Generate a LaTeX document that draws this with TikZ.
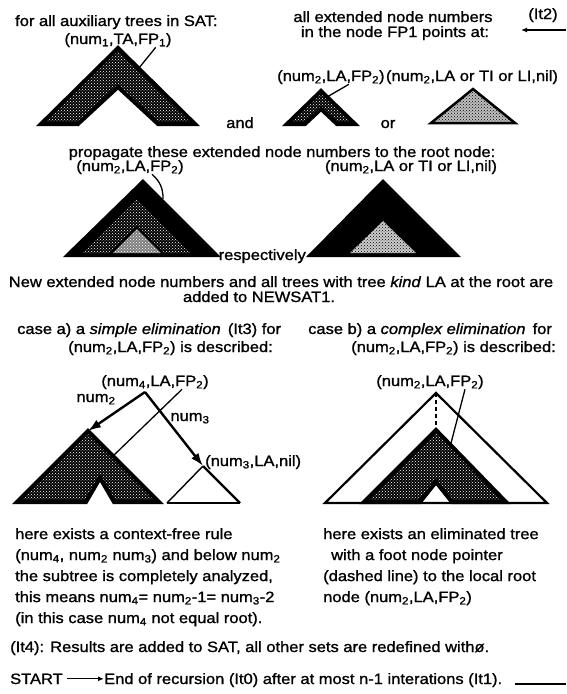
\documentclass[tikz,border=0pt]{standalone}
\usepackage{fontspec}
\setmainfont[FakeStretch=1.1,FakeBold=1.2]{Liberation Sans}
\usetikzlibrary{arrows.meta,positioning,patterns}
\newcommand{\nm}[1]{num\textsubscript{#1}}
\newcommand{\fp}[1]{FP\textsubscript{#1}}
\tikzset{
  texto/.style={font=\fontsize{15}{18}\selectfont, inner sep=0pt},
  bloco/.style={texto, align=left, font=\fontsize{15}{21}\selectfont, anchor=north west},
  % trees: black auxiliary tree with stipple, light initial tree, plain outline
  arvorepreta/.style={fill=black, draw=black, line width=2pt, line join=miter,
                postaction={pattern=crosshatch dots, pattern color=white},
                postaction={draw=black, line width=4pt, line join=miter}},
  arvoreclara/.style={fill=black!25, draw=black, line width=2.5pt,
                postaction={pattern=crosshatch dots, pattern color=black}},
  pontilhado/.style={pattern=crosshatch dots, pattern color=white},
  entalhe/.style={fill=black!50, postaction={pattern=crosshatch dots, pattern color=white}},
  claro/.style={fill=black!20, postaction={pattern=crosshatch dots, pattern color=black}},
  contorno/.style={draw=black, line width=2.2pt, line join=miter},
  contornofino/.style={draw=black, line width=1.4pt},
  ponteiro/.style={line width=1.3pt},
  tracejado/.style={line width=1.3pt, dashed, dash pattern=on 4pt off 3pt},
  seta/.style={line width=2.4pt, -{Latex[length=13pt,width=9pt]}},
  setafina/.style={line width=1.2pt, -{Latex[length=6pt,width=5pt]}},
}

\begin{document}
\begin{tikzpicture}[x=1pt,y=-1pt]
  \useasboundingbox (0,0) rectangle (566,694);

  % --- auxiliary trees in SAT ------------------------------------------------
  \node[texto, anchor=base west] (paratodas) at (15,26) {for all auxiliary trees in SAT:};
  \node[texto, anchor=base] (auxrotulo) at (118,44) {(\nm{1},TA,\fp{1})};
  \path[arvorepreta] (41,124) -- (118,48) -- (195,124) -- (158,124) -- (118,87) -- (78,124) -- cycle;
  \coordinate (auxpe) at (139,68);
  \draw[ponteiro] ([xshift=-16pt]auxrotulo.south east) -- (auxpe);
  \node[texto, anchor=base] (e) at (240,128) {and};

  \node[texto, anchor=base] (todas) at (393,22) {all extended node numbers};
  \node[texto, anchor=base] (nofp) at (395,37) {in the node FP1 points at:};
  \node[texto, anchor=base] (it2) at (543,19) {(It2)};
  \coordinate (laco) at (566,30);
  \coordinate (lacofim) at (521,30);
  \draw[setafina] (laco) -- (lacofim);

  \node[texto, anchor=base west] (lafp) at (277,81) {(\nm{2},LA,\fp{2})};
  \node[texto, base right=1pt of lafp] (lanil) {(\nm{2},LA or TI or LI,nil)};
  \path[arvorepreta] (287,124) -- (321,91) -- (355,124) -- (337,124) -- (321,109) -- (305,124) -- cycle;
  \coordinate (lape) at (327,97);
  \draw[ponteiro] ([xshift=18pt]lafp.south) -- (lape);
  \node[texto, anchor=base] (ou) at (388,128) {or};
  \path[arvoreclara] (431,123) -- (473,89) -- (515,123) -- cycle;

  % --- propagation to the root node --------------------------------------------
  \node[texto, anchor=base] (propaga) at (282,157) {propagate these extended node numbers to the root node:};
  \node[texto, anchor=base] (raizfp) at (130,171) {(\nm{2},LA,\fp{2})};
  \node[texto, anchor=base] (raiznil) at (411,171) {(\nm{2},LA or TI or LI,nil)};

  \fill (63,257) -- (143,179) -- (221,257) -- cycle;
  \path[pontilhado] (83,253) -- (137,199) -- (191,253) -- (165,253) -- (137,225) -- (109,253) -- cycle;
  \path[entalhe] (113,253) -- (137,229) -- (161,253) -- cycle;
  \coordinate (raizpe) at (163,199);
  \draw[ponteiro] ([xshift=22pt]raizfp.south) to[bend left=25] (raizpe);
  \node[texto, anchor=base east] (resp) at (306,260) {respectively};

  \fill (306,257) -- (383,179) -- (461,257) -- cycle;
  \path[claro] (350,253) -- (383,221) -- (416,253) -- cycle;

  % --- NEWSAT1 and the two cases ---------------------------------------------------
  \node[texto, anchor=base] (novos) at (281,287) {New extended node numbers and all trees with tree \textit{kind} LA at the root are};
  \node[texto, anchor=base] (newsat) at (259,302) {added to NEWSAT1.};
  \node[texto, anchor=base west] (casoa) at (17,334) {case a) a \textit{simple elimination}\, (It3) for};
  \node[texto, anchor=base east] (casoadesc) at (273,352) {(\nm{2},LA,\fp{2}) is described:};
  \node[texto, anchor=base west] (casob) at (308,334) {case b) a \textit{complex elimination}\, for};
  \node[texto, anchor=base east] (casobdesc) at (556,352) {(\nm{2},LA,\fp{2}) is described:};

  % --- case a: simple elimination --------------------------------------------
  \node[texto, anchor=base] (raiza) at (155,386) {(\nm{4},LA,\fp{2})};
  \coordinate (na) at (145,392);
  \coordinate (n2) at (88,431);
  \coordinate (n3) at (203,466);
  \node[texto, anchor=base] (rotn2) at (96,402) {\nm{2}};
  \node[texto, anchor=base] (rotn3) at (190,421) {\nm{3}};
  \node[texto, anchor=base west] (folha) at (205,466) {(\nm{3},LA,nil)};

  \path[arvorepreta] (17,502) -- (n2) -- (159,502) -- (114,502) -- (100,478) -- (86,502) -- cycle;
  \draw[contornofino] (167,503) -- (n3);
  \draw[contornofino] (167,503) -- (240,503);
  \draw[contorno] (n3) -- (240,503);
  \draw[seta] (na) -- (n2);
  \draw[seta] (na) -- (n3);
  \coordinate (apea) at (113,456);
  \draw[ponteiro] ([xshift=27pt]raiza.south) -- (apea);

  % --- case b: complex elimination -------------------------------------------
  \node[texto, anchor=base] (raizb) at (430,386) {(\nm{2},LA,\fp{2})};
  \coordinate (nb) at (436,393);
  \coordinate (pe) at (436,430);
  \draw[contorno] (325,503) -- (nb) -- (547,503) -- cycle;
  \path[arvorepreta] (364,502) -- (pe) -- (506,502) -- (452,502) -- (436,482) -- (420,502) -- cycle;
  \draw[tracejado] (nb) -- (pe);
  \coordinate (apeb) at (450,447);
  \draw[ponteiro] ([xshift=35pt]raizb.south) -- (apeb);

  % --- explanations ------------------------------------------------------------
  \node[bloco] (expla) at (15,528) {here exists a context-free rule\\
    (\nm{4}, \nm{2} \nm{3}) and below \nm{2}\\
    the subtree is completely analyzed,\\
    this means \nm{4}= \nm{2}-1= \nm{3}-2\\
    (in this case \nm{4} not equal root).};
  \node[bloco] (explb) at (323,528) {here exists an eliminated tree\\
    \hspace{8pt}with a foot node pointer\\
    (dashed line) to the local root\\
    node (\nm{2},LA,\fp{2})};

  % --- results and recursion end ---------------------------------------------
  \node[texto, anchor=base west] (resultados) at (10,652) {(It4): Results are added to SAT, all other sets are redefined withø.};
  \node[texto, anchor=base west] (inicio) at (10,684) {START};
  \node[texto, anchor=base west] (fim) at (104,684) {End of recursion (It0) after at most n-1 interations (It1).};
  \draw[setafina] ([xshift=4pt]inicio.east) -- (inicio.east -| fim.west);
  \coordinate (saida) at (566,686);
  \draw[ponteiro] ([xshift=13pt]fim.base east) -- (fim.base east -| saida);

\end{tikzpicture}
\end{document}
